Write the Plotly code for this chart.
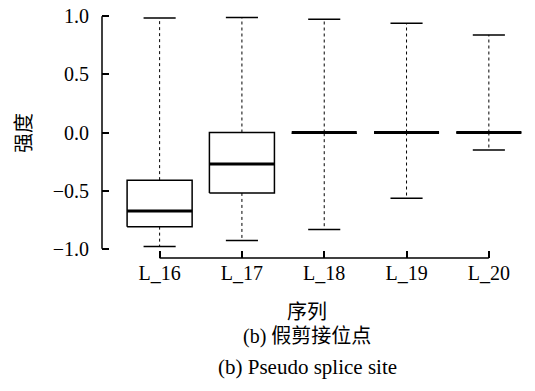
import plotly.graph_objects as go

# Five-number summaries of intensity for each sequence
categories = ["L_16", "L_17", "L_18", "L_19", "L_20"]
lower_whisker = [-0.98, -0.93, -0.835, -0.565, -0.15]
q1 = [-0.81, -0.52, -0.006, 0.0, 0.0]
median = [-0.675, -0.27, 0.0, 0.0, 0.0]
q3 = [-0.41, 0.0, 0.0, 0.0, 0.0]
upper_whisker = [0.985, 0.99, 0.975, 0.94, 0.84]

y_ticks = [-1.0, -0.5, 0.0, 0.5, 1.0]

BOX_HALF = 0.395
CAP_HALF = 0.195
SERIF = "Liberation Serif, Times New Roman, serif"
MIXED = "Liberation Serif, Noto Sans CJK SC, serif"

fig = go.Figure()

for i, name in enumerate(categories):
    x = i + 1
    # dotted whiskers
    fig.add_trace(go.Scatter(
        x=[x, x, None, x, x],
        y=[q3[i], upper_whisker[i], None, q1[i], lower_whisker[i]],
        mode="lines", line=dict(color="black", width=1, dash="dot"),
        hoverinfo="skip", showlegend=False))
    # whisker caps
    fig.add_trace(go.Scatter(
        x=[x - CAP_HALF, x + CAP_HALF, None, x - CAP_HALF, x + CAP_HALF],
        y=[upper_whisker[i], upper_whisker[i], None, lower_whisker[i], lower_whisker[i]],
        mode="lines", line=dict(color="black", width=1.5),
        hoverinfo="skip", showlegend=False))
    # box
    fig.add_trace(go.Scatter(
        x=[x - BOX_HALF, x + BOX_HALF, x + BOX_HALF, x - BOX_HALF, x - BOX_HALF],
        y=[q1[i], q1[i], q3[i], q3[i], q1[i]],
        mode="lines", fill="toself", fillcolor="white",
        line=dict(color="black", width=1.5),
        name=name, showlegend=False))
    # median
    fig.add_trace(go.Scatter(
        x=[x - BOX_HALF, x + BOX_HALF], y=[median[i], median[i]],
        mode="lines", line=dict(color="black", width=3),
        hoverinfo="skip", showlegend=False))

# detached axis lines spanning the data range only
fig.add_shape(type="line", xref="paper", yref="y", x0=0, x1=0,
              y0=min(y_ticks), y1=max(y_ticks), line=dict(color="black", width=1.5))
fig.add_shape(type="line", xref="x", yref="paper", x0=1, x1=len(categories),
              y0=0, y1=0, line=dict(color="black", width=1.5))

fig.update_xaxes(
    range=[0.3, 5.5], tickmode="array",
    tickvals=list(range(1, len(categories) + 1)), ticktext=categories,
    showline=False, showgrid=False, zeroline=False,
    ticks="inside", ticklen=7, tickwidth=1.5, tickcolor="black",
    ticklabelstandoff=1,
    tickfont=dict(family=SERIF, size=20, color="black"))
fig.update_yaxes(
    range=[-1.08, 1.08], tickmode="array", tickvals=y_ticks,
    tickformat=".1f",
    showline=False, showgrid=False, zeroline=False,
    ticks="inside", ticklen=7, tickwidth=1.5, tickcolor="black",
    ticklabelstandoff=12,
    tickfont=dict(family=SERIF, size=20, color="black"))

annotations = [
    dict(text="序列", x=0.479, y=-0.215, textangle=0, size=20),
    dict(text="(b) 假剪接位点", x=0.479, y=-0.3147, textangle=0, size=20),
    dict(text="(b) Pseudo splice site", x=0.479, y=-0.4343, textangle=0, size=21),
    dict(text="强度", x=-0.1822, y=0.498, textangle=-90, size=20),
]
for a in annotations:
    fig.add_annotation(
        text=a["text"], x=a["x"], y=a["y"], xref="paper", yref="paper",
        xanchor="center", yanchor="middle", textangle=a["textangle"],
        showarrow=False, font=dict(family=MIXED, size=a["size"], color="black"))

fig.update_layout(
    width=535, height=391,
    margin=dict(l=102, r=5, t=7, b=133),
    paper_bgcolor="white", plot_bgcolor="white",
    showlegend=False)

fig.write_html("out.html")
